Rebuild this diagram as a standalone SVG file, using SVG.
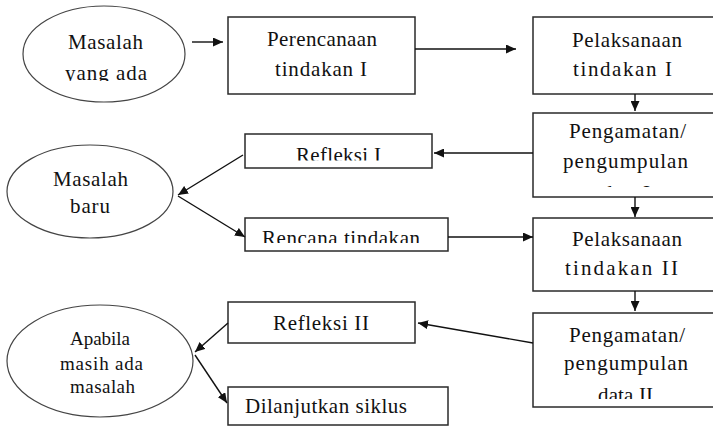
<svg xmlns="http://www.w3.org/2000/svg" width="713" height="428" viewBox="0 0 713 428">
<defs>
<style>
.box{fill:#fff;stroke:#2a2a2a;stroke-width:1.5}
.ell{fill:#fff;stroke:#444;stroke-width:1.2}
.c{fill:none;stroke:#111;stroke-width:1.4;marker-end:url(#ah)}
</style>
<marker id="ah" markerUnits="userSpaceOnUse" markerWidth="10" markerHeight="9" viewBox="0 0 10 9" refX="10" refY="4.5" orient="auto">
<path d="M0,0 L10,4.5 L0,9 z" fill="#111"/>
</marker>
<clipPath id="cp1"><rect x="0" y="0" width="713" height="81"/></clipPath>
<clipPath id="cp2"><rect x="0" y="0" width="713" height="160.5"/></clipPath>
<clipPath id="cp3"><rect x="0" y="0" width="713" height="243"/></clipPath>
<clipPath id="cp4"><rect x="0" y="0" width="713" height="187"/></clipPath>
<clipPath id="cp5"><rect x="0" y="0" width="713" height="399"/></clipPath>
</defs>
<rect width="713" height="428" fill="#fff"/>

<g id="masalah-yang-ada">
<ellipse class="ell" cx="104" cy="54" rx="81" ry="48"/>
<text font-family="Liberation Serif" font-size="21" fill="#111" text-anchor="middle" x="105.5" y="49" textLength="75" lengthAdjust="spacing">Masalah</text>
<text font-family="Liberation Serif" font-size="21" fill="#111" text-anchor="middle" x="106" y="80" textLength="82" lengthAdjust="spacing" clip-path="url(#cp1)">yang ada</text>
</g>

<g id="perencanaan">
<rect class="box" x="228" y="17" width="187" height="77"/>
<text font-family="Liberation Serif" font-size="21" fill="#111" text-anchor="middle" x="322" y="46" textLength="110" lengthAdjust="spacing">Perencanaan</text>
<text font-family="Liberation Serif" font-size="21" fill="#111" text-anchor="middle" x="321" y="76" textLength="92" lengthAdjust="spacing">tindakan I</text>
</g>

<g id="pelaksanaan-1">
<rect class="box" x="533" y="17" width="190" height="77"/>
<text font-family="Liberation Serif" font-size="21" fill="#111" text-anchor="middle" x="627" y="47" textLength="110" lengthAdjust="spacing">Pelaksanaan</text>
<text font-family="Liberation Serif" font-size="21" fill="#111" text-anchor="middle" x="622.5" y="76" textLength="99" lengthAdjust="spacing">tindakan I</text>
</g>

<g id="pengamatan-1">
<rect class="box" x="533" y="113" width="190" height="84"/>
<text font-family="Liberation Serif" font-size="21" fill="#111" text-anchor="middle" x="627.5" y="138" textLength="117" lengthAdjust="spacing">Pengamatan/</text>
<text font-family="Liberation Serif" font-size="21" fill="#111" text-anchor="middle" x="625.5" y="168" textLength="125" lengthAdjust="spacing">pengumpulan</text>
<text font-family="Liberation Serif" font-size="21" fill="#111" text-anchor="middle" x="626" y="200" textLength="48" lengthAdjust="spacing" clip-path="url(#cp4)">data I</text>
</g>

<g id="refleksi-1">
<rect class="box" x="245" y="134" width="187" height="34"/>
<text font-family="Liberation Serif" font-size="21" fill="#111" text-anchor="middle" x="338.5" y="161.5" textLength="85" lengthAdjust="spacing" clip-path="url(#cp2)">Refleksi I</text>
</g>

<g id="masalah-baru">
<ellipse class="ell" cx="90" cy="191.5" rx="83" ry="46.5"/>
<text font-family="Liberation Serif" font-size="21" fill="#111" text-anchor="middle" x="90.5" y="186" textLength="75" lengthAdjust="spacing">Masalah</text>
<text font-family="Liberation Serif" font-size="21" fill="#111" text-anchor="middle" x="90" y="213" textLength="40" lengthAdjust="spacing">baru</text>
</g>

<g id="rencana-tindakan">
<rect class="box" x="245" y="218" width="203" height="33"/>
<text font-family="Liberation Serif" font-size="21" fill="#111" text-anchor="middle" x="341" y="244.5" textLength="158" lengthAdjust="spacing" clip-path="url(#cp3)">Rencana tindakan</text>
</g>

<g id="pelaksanaan-2">
<rect class="box" x="533" y="218" width="190" height="73"/>
<text font-family="Liberation Serif" font-size="21" fill="#111" text-anchor="middle" x="627" y="246" textLength="110" lengthAdjust="spacing">Pelaksanaan</text>
<text font-family="Liberation Serif" font-size="21" fill="#111" text-anchor="middle" x="621.5" y="275" textLength="113" lengthAdjust="spacing">tindakan  II</text>
</g>

<g id="pengamatan-2">
<rect class="box" x="533" y="313" width="190" height="94"/>
<text font-family="Liberation Serif" font-size="21" fill="#111" text-anchor="middle" x="627" y="342" textLength="116" lengthAdjust="spacing">Pengamatan/</text>
<text font-family="Liberation Serif" font-size="21" fill="#111" text-anchor="middle" x="626" y="370" textLength="124" lengthAdjust="spacing">pengumpulan</text>
<text font-family="Liberation Serif" font-size="21" fill="#111" text-anchor="middle" x="625.5" y="402" textLength="55" lengthAdjust="spacing" clip-path="url(#cp5)">data II</text>
</g>

<g id="refleksi-2">
<rect class="box" x="228" y="302" width="187" height="41"/>
<text font-family="Liberation Serif" font-size="21" fill="#111" text-anchor="middle" x="321" y="330" textLength="96" lengthAdjust="spacing">Refleksi II</text>
</g>

<g id="apabila">
<ellipse class="ell" cx="100" cy="361" rx="93" ry="56"/>
<text font-family="Liberation Serif" font-size="19" fill="#111" text-anchor="middle" x="100" y="345" textLength="60" lengthAdjust="spacing">Apabila</text>
<text font-family="Liberation Serif" font-size="19" fill="#111" text-anchor="middle" x="101.5" y="370" textLength="83" lengthAdjust="spacing">masih ada</text>
<text font-family="Liberation Serif" font-size="19" fill="#111" text-anchor="middle" x="102.5" y="393" textLength="65" lengthAdjust="spacing">masalah</text>
</g>

<g id="dilanjutkan">
<rect class="box" x="228" y="387" width="220" height="38"/>
<text font-family="Liberation Serif" font-size="21" fill="#111" text-anchor="middle" x="326" y="413" textLength="162" lengthAdjust="spacing">Dilanjutkan siklus</text>
</g>

<g id="connectors">
<path class="c" d="M192,42 L223,42"/>
<path class="c" d="M415,49 L516,49"/>
<path class="c" d="M635,94 L635,111"/>
<path class="c" d="M533,153 L434,153"/>
<path class="c" d="M635,197 L635,217"/>
<path class="c" d="M243,155 L178,195"/>
<path class="c" d="M178,196 L245,237"/>
<path class="c" d="M448,237 L533,237"/>
<path class="c" d="M635,291 L635,311"/>
<path class="c" d="M533,343 L418,323"/>
<path class="c" d="M228,323 L195,352"/>
<path class="c" d="M195,355 L227,403"/>
</g>
</svg>
